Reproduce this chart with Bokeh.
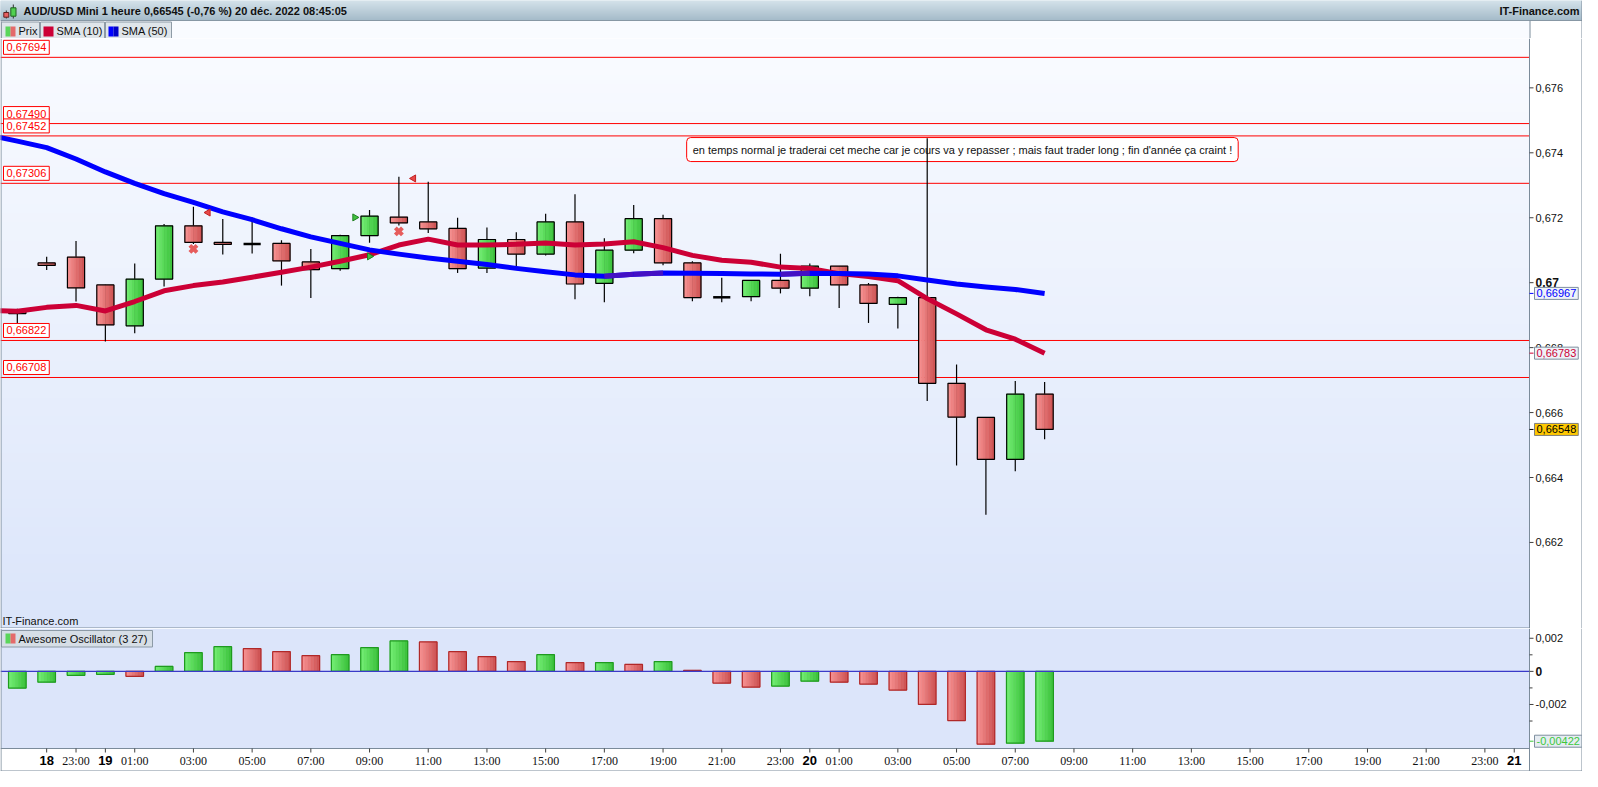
import numpy as np
from bokeh.plotting import figure
from bokeh.layouts import column
from bokeh.models import Range1d, Label
from bokeh.core.properties import value
from bokeh.embed import file_html
from bokeh.resources import INLINE

# ---------------- data ----------------
TITLE = "AUD/USD Mini 1 heure 0,66545 (-0,76 %) 20 déc. 2022 08:45:05"
SOURCE = "IT-Finance.com"
LEGEND_NAMES = ["Prix", "SMA (10)", "SMA (50)"]
AO_NAME = "Awesome Oscillator (3 27)"
NOTE_TEXT = "en temps normal je traderai cet meche car je cours va y repasser ; mais faut trader long ; fin d'année ça craint !"

candle_idx = list(range(36))
opens = [0.66915, 0.67061, 0.67079, 0.66993, 0.66867, 0.67011, 0.67175, 0.67124, 0.67119, 0.67121,
         0.67064, 0.67043, 0.67145, 0.67202, 0.67187, 0.67167, 0.67045, 0.67133, 0.67088, 0.67187,
         0.66998, 0.67100, 0.67197, 0.67061, 0.66955, 0.66957, 0.67007, 0.66983, 0.67051, 0.66993,
         0.66933, 0.66954, 0.66690, 0.66585, 0.66456, 0.66657]
highs = [0.66920, 0.67080, 0.67128, 0.66994, 0.67059, 0.67181, 0.67234, 0.67196, 0.67201, 0.67131,
         0.67104, 0.67148, 0.67224, 0.67326, 0.67311, 0.67200, 0.67170, 0.67155, 0.67212, 0.67272,
         0.67137, 0.67239, 0.67209, 0.67066, 0.67015, 0.67007, 0.67089, 0.67059, 0.67051, 0.66999,
         0.66957, 0.67445, 0.66748, 0.66585, 0.66697, 0.66694]
lows = [0.66876, 0.67039, 0.66942, 0.66819, 0.66844, 0.66988, 0.67119, 0.67087, 0.67090, 0.66991,
        0.66953, 0.67037, 0.67123, 0.67176, 0.67153, 0.67030, 0.67030, 0.67051, 0.67084, 0.66949,
        0.66940, 0.67091, 0.67054, 0.66943, 0.66940, 0.66943, 0.66967, 0.66958, 0.66922, 0.66876,
        0.66859, 0.66636, 0.66437, 0.66285, 0.66419, 0.66518]
closes = [0.66905, 0.67053, 0.66984, 0.66870, 0.67011, 0.67175, 0.67124, 0.67118, 0.67119, 0.67067,
          0.67040, 0.67145, 0.67205, 0.67184, 0.67166, 0.67043, 0.67133, 0.67088, 0.67187, 0.66996,
          0.67100, 0.67197, 0.67061, 0.66954, 0.66955, 0.67007, 0.66983, 0.67051, 0.66993, 0.66936,
          0.66954, 0.66690, 0.66586, 0.66456, 0.66657, 0.66548]

sma_idx = list(range(-1, 36))
sma10 = [0.66915, 0.66912, 0.66924, 0.66930, 0.66913, 0.66942, 0.66975, 0.66991, 0.67002, 0.67017,
         0.67032, 0.67048, 0.67066, 0.67086, 0.67116, 0.67134, 0.67116, 0.67116, 0.67118, 0.67122,
         0.67116, 0.67119, 0.67126, 0.67108, 0.67084, 0.67069, 0.67063, 0.67048, 0.67044, 0.67028,
         0.67019, 0.67006, 0.66951, 0.66904, 0.66855, 0.66826, 0.66783]
sma50 = [0.67455, 0.67436, 0.67416, 0.67381, 0.67341, 0.67306, 0.67274, 0.67247, 0.67218, 0.67194,
         0.67166, 0.67141, 0.67121, 0.67101, 0.67088, 0.67076, 0.67066, 0.67056, 0.67044, 0.67034,
         0.67024, 0.67020, 0.67026, 0.67030, 0.67029, 0.67028, 0.67027, 0.67026, 0.67029, 0.67028,
         0.67027, 0.67021, 0.67008, 0.66996, 0.66987, 0.66979, 0.66967]

ao = [-0.00101, -0.00065, -0.00024, -0.00018, -0.00030, 0.00030, 0.00113, 0.00149, 0.00137, 0.00119,
      0.00095, 0.00101, 0.00143, 0.00184, 0.00178, 0.00119, 0.00089, 0.00059, 0.00101, 0.00053,
      0.00053, 0.00042, 0.00059, 0.00006, -0.00071, -0.00095, -0.00089, -0.00059, -0.00065, -0.00077,
      -0.00113, -0.00200, -0.00297, -0.00440, -0.00434, -0.00422]
ao_rising = [True, True, True, True, False, True, True, True, False, False,
             False, True, True, True, False, False, False, False, True, False,
             True, False, True, False, False, False, True, True, False, False,
             False, False, False, False, True, True]

level_prices = [0.67694, 0.67490, 0.67452, 0.67306, 0.66822, 0.66708]

sell_idx = [6, 13]
sell_price = [0.67104, 0.67158]
left_tri_idx = [6.5, 13.5]
left_tri_price = [0.67216, 0.67321]
right_tri_idx = [11.5, 12.0]
right_tri_price = [0.67201, 0.67081]

note_idx = 32.2
note_price = 0.67410

price_ticks = [0.662, 0.664, 0.666, 0.668, 0.670, 0.672, 0.674, 0.676]
price_tick_labels = ["0,662", "0,664", "0,666", "0,668", "0,67", "0,672", "0,674", "0,676"]
ao_ticks = [-0.002, 0.0, 0.002]
ao_tick_labels = ["-0,002", "0", "0,002"]
ao_minor = [-0.003, -0.001, 0.001]
x_tick_idx = [1, 2, 3, 4, 6, 8, 10, 12, 14, 16, 18, 20, 22, 24, 26, 27, 28, 30, 32, 34, 36, 38,
              40, 42, 44, 46, 48, 50, 51]
x_tick_labels = ["18", "23:00", "19", "01:00", "03:00", "05:00", "07:00", "09:00", "11:00", "13:00",
                 "15:00", "17:00", "19:00", "21:00", "23:00", "20", "01:00", "03:00", "05:00", "07:00",
                 "09:00", "11:00", "13:00", "15:00", "17:00", "19:00", "21:00", "23:00", "21"]

# ---------------- layout / style ----------------
W = 1582
AXW = 53
FW = W - AXW
HDR_H = 38
PRICE_H = 590
OSC_FRAME_H = 120
OSC_AX_H = 23
OSC_H = OSC_FRAME_H + OSC_AX_H
X0, X1 = -0.573, 51.52
DX = (X1 - X0) / FW
XR = X0 + W * DX
Y0, Y1 = 0.65935, 0.67752
DY = (Y1 - Y0) / PRICE_H
OY0, OY1 = -0.00466, 0.00259
ODY = (OY1 - OY0) / OSC_FRAME_H
OYB = OY0 - OSC_AX_H * ODY
BODY_W = 0.585
AO_W = 0.6
FONT = "Liberation Sans"
NARROW = "Liberation Sans Narrow"
AXIS_COL = "#7b8b9a"
TXT = "#101010"
SMA10_COL = "#cc0036"
SMA50_COL = "#0000ff"
SMA50_UP_COL = "#4410c4"
RED_L, RED_D = (245, 142, 142), (208, 86, 86)
GRN_L, GRN_D = (112, 236, 112), (62, 196, 62)


def fmt(v, n=5):
    return f"{v:.{n}f}".replace(".", ",")


def hexc(c):
    return "#%02x%02x%02x" % c


def strips(fig, xs, tops, bottoms, width, light, dark, n=6):
    if not xs:
        return
    for k in range(n):
        t = k / (n - 1)
        col = hexc(tuple(int(round(light[j] + (dark[j] - light[j]) * t)) for j in range(3)))
        off = -width / 2 + (k + 0.5) * width / n
        fig.vbar(x=[x + off for x in xs], width=width / n, top=tops, bottom=bottoms,
                 fill_color=col, line_color=col, line_width=0.6)


def txt(fig, x, y, s, size="11px", color=TXT, style="normal", align="left", baseline="middle", font=FONT, **kw):
    fig.text(x=[x], y=[y], text=[s], text_font=value(font), text_font_size=value(size),
             text_font_style=style, text_color=color, text_align=align, text_baseline=baseline, **kw)


def bare(fig):
    fig.outline_line_color = None
    fig.grid.grid_line_color = None
    fig.background_fill_color = "white"
    fig.border_fill_color = "white"


# ---------------- header ----------------
hdr = figure(width=W, height=HDR_H, x_range=Range1d(0, W), y_range=Range1d(HDR_H, 0),
             toolbar_location=None, output_backend="svg", min_border=0,
             x_axis_location=None, y_axis_location=None)
bare(hdr)
top_c, bot_c = (212, 226, 234), (166, 188, 202)
rows = list(range(20))
row_cols = [hexc(tuple(int(round(top_c[j] + (bot_c[j] - top_c[j]) * r / 19)) for j in range(3))) for r in rows]
hdr.quad(left=0, right=W, top=rows, bottom=[r + 1 for r in rows], fill_color=row_cols, line_color=row_cols)
hdr.quad(left=[0], right=[FW], top=[20], bottom=[HDR_H], fill_color="#f9fbff", line_color=None)
hdr.segment(x0=[0], y0=[20], x1=[W], y1=[20], line_color="#8797a4", line_width=1)
hdr.segment(x0=[FW + 0.5, 0.5, W - 0.5], y0=[20, 20, 0], x1=[FW + 0.5, 0.5, W - 0.5], y1=[HDR_H] * 3,
            line_color=AXIS_COL, line_width=1)
# icon
hdr.segment(x0=[5.8, 12.8], y0=[10, 4], x1=[5.8, 12.8], y1=[18, 18], line_color="#303030", line_width=1)
hdr.quad(left=[3.3], right=[8.3], top=[12], bottom=[16.7], fill_color="#e86060", line_color="#602020")
hdr.quad(left=[10.3], right=[15.5], top=[7.3], bottom=[15.7], fill_color="#50d050", line_color="#206020")
txt(hdr, 23, 10.5, TITLE, style="bold")
txt(hdr, W - 3, 10.5, SOURCE, style="bold", align="right")
# legend buttons
btn_l = [1, 40, 105]
btn_r = [39, 104, 171]
hdr.quad(left=btn_l, right=btn_r, top=[21.5] * 3, bottom=[38.5] * 3, fill_color="#dfe5ea",
         line_color="#8e9ba6", line_width=1)
hdr.quad(left=[5, 10], right=[10, 15], top=[26, 26], bottom=[36, 36], fill_color=["#5ad65a", "#e46a6a"],
         line_color=None)
hdr.quad(left=[43], right=[53], top=[26], bottom=[36], fill_color=SMA10_COL, line_color=None)
hdr.quad(left=[108, 113], right=[113, 118], top=[26, 26], bottom=[36, 36], fill_color=["#0000ff", "#0000c8"],
         line_color=None)
hdr.text(x=[18, 56, 121], y=[30.5] * 3, text=LEGEND_NAMES, text_font=value(FONT),
         text_font_size=value("11px"), text_baseline="middle", text_color=TXT)

# ---------------- price panel ----------------
p = figure(width=W, height=PRICE_H, x_range=Range1d(X0, XR), y_range=Range1d(Y0, Y1),
           toolbar_location=None, output_backend="svg", x_axis_location=None, y_axis_location=None,
           min_border=0)
bare(p)

# gradient background of the plotting area
g_top, g_bot = np.array([249, 251, 255]), np.array([219, 229, 250])
N = 64
grad = np.empty((N, 1), dtype=np.uint32)
gv = grad.view(dtype=np.uint8).reshape((N, 1, 4))
for r in range(N):
    c = g_bot + (g_top - g_bot) * r / (N - 1)
    gv[r, 0, 0:3] = np.round(c).astype(np.uint8)
    gv[r, 0, 3] = 255
bg = p.image_rgba(image=[grad], x=X0, y=Y0, dw=X1 - X0, dh=Y1 - Y0)
bg.level = "image"

# horizontal price levels
p.segment(x0=[X0] * len(level_prices), y0=level_prices, x1=[X1] * len(level_prices), y1=level_prices,
          line_color="#ff0000", line_width=1)

# note
p.text(x=[note_idx], y=[note_price], text=[NOTE_TEXT], text_align="center", text_baseline="middle",
       text_font=value(FONT), text_font_size=value("11px"), text_color=TXT,
       background_fill_color="white", border_line_color="#ff0000", border_line_width=1,
       padding=6, border_radius=4)

# candles
p.segment(x0=candle_idx, y0=lows, x1=candle_idx, y1=highs, line_color="black", line_width=1.2)
up = [i for i in candle_idx if closes[i] > opens[i]]
dn = [i for i in candle_idx if closes[i] < opens[i]]
dj = [i for i in candle_idx if closes[i] == opens[i]]
strips(p, up, [closes[i] for i in up], [opens[i] for i in up], BODY_W, GRN_L, GRN_D)
strips(p, dn, [opens[i] for i in dn], [closes[i] for i in dn], BODY_W, RED_L, RED_D)
body_idx = up + dn
p.vbar(x=body_idx, width=BODY_W, top=[max(opens[i], closes[i]) for i in body_idx],
       bottom=[min(opens[i], closes[i]) for i in body_idx], fill_color=None, line_color="black", line_width=1.2)
p.segment(x0=[i - BODY_W / 2 for i in dj], y0=[opens[i] for i in dj], x1=[i + BODY_W / 2 for i in dj],
          y1=[opens[i] for i in dj], line_color="black", line_width=2.5)

# moving averages
p.line(sma_idx, sma10, line_color=SMA10_COL, line_width=5, line_join="round")
p.line(sma_idx, sma50, line_color=SMA50_COL, line_width=5, line_join="round")
rise = [k for k in range(len(sma50) - 1) if sma50[k + 1] > sma50[k]]
p.segment(x0=[sma_idx[k] for k in rise], y0=[sma50[k] for k in rise], x1=[sma_idx[k + 1] for k in rise],
          y1=[sma50[k + 1] for k in rise], line_color=SMA50_UP_COL, line_width=5)

# signals
p.scatter(sell_idx, sell_price, marker="x", size=10, line_color="#e65c5c", line_width=4)
p.scatter(left_tri_idx, left_tri_price, marker="triangle", angle=np.pi / 2, size=7,
          fill_color="#e84848", line_color="#c02020")
p.scatter(right_tri_idx, right_tri_price, marker="triangle", angle=-np.pi / 2, size=7,
          fill_color="#40c040", line_color="#208020")

# level labels (left)
for lv in level_prices:
    p.add_layout(Label(x=X0, y=lv, x_offset=3, y_offset=3, text=fmt(lv), text_align="left",
                       text_baseline="bottom", text_color="#ff0000", text_font=FONT, text_font_size="11px",
                       background_fill_color="white", border_line_color="#ff0000", padding=3))
p.add_layout(Label(x=X0, y=Y0, x_offset=2, y_offset=2, text=SOURCE, text_baseline="bottom",
                   text_color=TXT, text_font=FONT, text_font_size="11px"))

# frame borders
p.segment(x0=[X0 + 0.5 * DX, X1, XR - 0.5 * DX], y0=[Y0, Y0, Y0], x1=[X0 + 0.5 * DX, X1, XR - 0.5 * DX],
          y1=[Y1, Y1, Y1], line_color=AXIS_COL, line_width=1)
p.segment(x0=[X0], y0=[Y0 + 0.5 * DY], x1=[X1], y1=[Y0 + 0.5 * DY], line_color=AXIS_COL, line_width=1)

# right price axis (drawn by hand)
p.segment(x0=[X1] * len(price_ticks), y0=price_ticks, x1=[X1 + 4 * DX] * len(price_ticks), y1=price_ticks,
          line_color="#404040", line_width=1)
for t, lab in zip(price_ticks, price_tick_labels):
    bold = len(lab) == 4
    txt(p, X1 + 6 * DX, t, lab, size="12px" if bold else "11px", style="bold" if bold else "normal")

# current-value boxes
for v, col, bgc, bdc in [(sma50[-1], SMA50_COL, "#eef2f8", "#7f8f9f"),
                         (sma10[-1], SMA10_COL, "#eef2f8", "#7f8f9f"),
                         (closes[-1], "black", "#ffc800", "#7f7f7f")]:
    p.segment(x0=[X1], y0=[v], x1=[X1 + 4 * DX], y1=[v], line_color=col, line_width=1)
    txt(p, X1 + 5 * DX, v, fmt(v), color=col, background_fill_color=bgc, border_line_color=bdc,
        border_line_width=1, padding=2)

# ---------------- oscillator panel ----------------
o = figure(width=W, height=OSC_H, x_range=p.x_range, y_range=Range1d(OYB, OY1),
           toolbar_location=None, output_backend="svg", x_axis_location=None, y_axis_location=None,
           min_border=0)
bare(o)
o.quad(left=[X0], right=[X1], bottom=[OY0], top=[OY1], fill_color="#dce5fa", line_color=None)

ao_up = [i for i in candle_idx if ao_rising[i]]
ao_dn = [i for i in candle_idx if not ao_rising[i]]
strips(o, ao_up, [max(ao[i], 0) for i in ao_up], [min(ao[i], 0) for i in ao_up], AO_W, GRN_L, GRN_D)
strips(o, ao_dn, [max(ao[i], 0) for i in ao_dn], [min(ao[i], 0) for i in ao_dn], AO_W, RED_L, RED_D)
o.vbar(x=ao_up, width=AO_W, top=[max(ao[i], 0) for i in ao_up], bottom=[min(ao[i], 0) for i in ao_up],
       fill_color=None, line_color="#1f9a1f", line_width=1.2)
o.vbar(x=ao_dn, width=AO_W, top=[max(ao[i], 0) for i in ao_dn], bottom=[min(ao[i], 0) for i in ao_dn],
       fill_color=None, line_color="#b02828", line_width=1.2)
o.segment(x0=[X0], y0=[0], x1=[X1], y1=[0], line_color="#3a3ac8", line_width=1.2)


def ox(px):
    return X0 + px * DX


def oy(py):
    return OY1 - py * ODY


o.quad(left=[ox(1)], right=[ox(152)], top=[oy(2)], bottom=[oy(18.5)], fill_color="#d6dee6",
       line_color="#8c9aa6", line_width=1)
o.quad(left=[ox(5), ox(10)], right=[ox(10), ox(15)], top=[oy(5)] * 2, bottom=[oy(15)] * 2,
       fill_color=["#5ad65a", "#e46a6a"], line_color=None)
txt(o, ox(18), oy(10.5), AO_NAME)

# borders
o.segment(x0=[X0 + 0.5 * DX, X1, XR - 0.5 * DX], y0=[OYB] * 3, x1=[X0 + 0.5 * DX, X1, XR - 0.5 * DX],
          y1=[OY1] * 3, line_color=AXIS_COL, line_width=1)
o.segment(x0=[X0, X0], y0=[OY0, OYB + 0.5 * ODY], x1=[X1, XR], y1=[OY0, OYB + 0.5 * ODY],
          line_color=AXIS_COL, line_width=1)

# right oscillator axis
o.segment(x0=[X1] * len(ao_ticks), y0=ao_ticks, x1=[X1 + 4 * DX] * len(ao_ticks), y1=ao_ticks,
          line_color="#404040", line_width=1)
o.segment(x0=[X1] * len(ao_minor), y0=ao_minor, x1=[X1 + 3 * DX] * len(ao_minor), y1=ao_minor,
          line_color="#404040", line_width=1)
for t, lab in zip(ao_ticks, ao_tick_labels):
    bold = lab == "0"
    txt(o, X1 + 6 * DX, t, lab, size="12px" if bold else "11px", style="bold" if bold else "normal")
o.segment(x0=[X1], y0=[ao[-1]], x1=[X1 + 4 * DX], y1=[ao[-1]], line_color="#3cc83c", line_width=1)
txt(o, X1 + 5 * DX, ao[-1], fmt(ao[-1]), color="#3cc83c", background_fill_color="#e6ecf2",
    border_line_color="#7f8f9f", border_line_width=1, padding=2)

# time axis (drawn by hand)
o.segment(x0=x_tick_idx, y0=[OY0] * len(x_tick_idx), x1=x_tick_idx, y1=[OY0 - 4 * ODY] * len(x_tick_idx),
          line_color="#404040", line_width=1)
for t, lab in zip(x_tick_idx, x_tick_labels):
    if ":" in lab:
        txt(o, t, OY0 - 12 * ODY, lab, size="12px", align="center", font=NARROW)
    else:
        txt(o, t, OY0 - 12 * ODY, lab, size="13px", align="center", style="bold", color="black")

layout = column(hdr, p, o, spacing=0)
open("out.html", "w").write(file_html(layout, INLINE))
